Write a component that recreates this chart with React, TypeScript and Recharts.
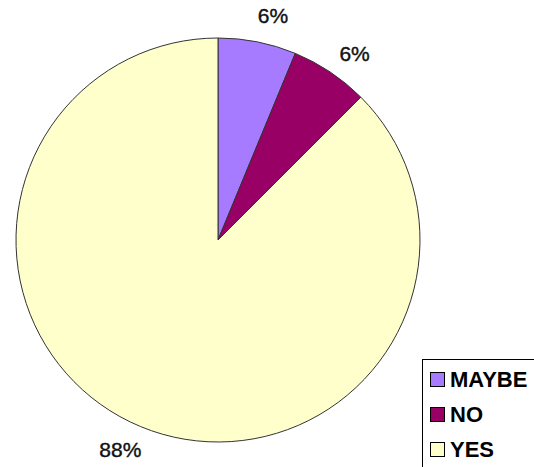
import { PieChart, Pie, Cell, Legend } from "recharts";

const answers = ["MAYBE", "NO", "YES"];
const counts = [1, 1, 14];
const sliceColors = ["#A77BFF", "#990066", "#FFFFCC"];

const data = answers.map((name, i) => ({ name, value: counts[i] }));
const total = counts.reduce((a, b) => a + b, 0);

const RADIAN = Math.PI / 180;

function renderLabel(props: any) {
  const { cx, cy, midAngle, outerRadius, value } = props;
  const r = outerRadius + 29;
  // labels sit a touch clockwise of the slice middle, like the original
  const angle = midAngle - 2.5;
  const x = cx + r * Math.cos(-angle * RADIAN);
  const y = cy + r * Math.sin(-angle * RADIAN);
  return (
    <text
      x={x}
      y={y}
      fill="#111"
      stroke="#111"
      strokeWidth={0.4}
      fontSize={21}
      fontFamily="'Liberation Sans', Arial, sans-serif"
      textAnchor="middle"
      dominantBaseline="central"
    >
      {`${Math.round((value / total) * 100)}%`}
    </text>
  );
}

function LegendBox() {
  return (
    <div
      style={{
        border: "1px solid #000",
        background: "#fff",
        width: 118,
        height: 112,
        boxSizing: "border-box",
        paddingTop: 2,
        fontFamily: "'Liberation Sans', Arial, sans-serif",
      }}
    >
      {data.map((d, i) => (
        <div
          key={d.name}
          style={{ display: "flex", alignItems: "center", height: 35, paddingLeft: 7 }}
        >
          <span
            style={{
              display: "inline-block",
              width: 13,
              height: 13,
              background: sliceColors[i],
              border: "1px solid #000",
              marginRight: 5,
            }}
          />
          <span style={{ fontSize: 22, fontWeight: "bold", color: "#000", lineHeight: "22px" }}>
            {d.name}
          </span>
        </div>
      ))}
    </div>
  );
}

export default function App() {
  return (
    <div style={{ position: "absolute", left: 0, top: 0, background: "#fff" }}>
      <PieChart width={534} height={467} margin={{ top: 0, right: 0, bottom: 0, left: 0 }}>
        <Pie
          data={data}
          dataKey="value"
          nameKey="name"
          cx={218}
          cy={240}
          outerRadius={202}
          startAngle={90}
          endAngle={-270}
          stroke="#333"
          strokeWidth={1}
          label={renderLabel}
          labelLine={false}
          isAnimationActive={false}
        >
          {data.map((d, i) => (
            <Cell key={d.name} fill={sliceColors[i]} />
          ))}
        </Pie>
        <Legend
          content={<LegendBox />}
          wrapperStyle={{ left: 422, top: 359, width: 118, height: 112 }}
        />
      </PieChart>
    </div>
  );
}
